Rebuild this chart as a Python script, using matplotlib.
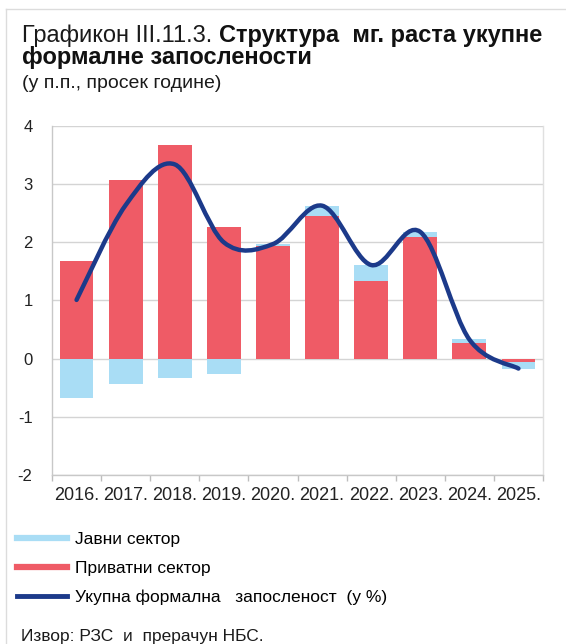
import matplotlib
matplotlib.use("Agg")
import matplotlib.pyplot as plt
from matplotlib.path import Path
from matplotlib.patches import PathPatch
from matplotlib.lines import Line2D
import numpy as np

plt.rcParams['font.family'] = ['Liberation Sans', 'DejaVu Sans']

# Year-on-year growth of formal employment, contributions in p.p.
years = ["2016.", "2017.", "2018.", "2019.", "2020.", "2021.", "2022.", "2023.", "2024.", "2025."]
private_sector = [1.68, 3.08, 3.67, 2.26, 1.93, 2.46, 1.34, 2.09, 0.27, -0.05]
public_sector = [-0.67, -0.44, -0.33, -0.26, 0.04, 0.17, 0.27, 0.09, 0.06, -0.13]
total_growth = [1.01, 2.64, 3.34, 2.00, 1.97, 2.63, 1.61, 2.18, 0.33, -0.17]

y_ticks = [-2, -1, 0, 1, 2, 3, 4]

legend_labels = ["Јавни сектор", "Приватни сектор", "Укупна формална   запосленост  (у %)"]
title_plain = "Графикон III.11.3. "
title_bold_1 = "Структура  мг. раста укупне"
title_bold_2 = "формалне запослености"
subtitle = "(у п.п., просек године)"
source = "Извор: РЗС  и  прерачун НБС."

c_public = "#a9ddf5"
c_private = "#ef5b66"
c_total = "#1c3a8a"
c_grid = "#d4d4d4"

W, H = 566, 644
fig = plt.figure(figsize=(W / 100, H / 100), dpi=100)
ax = fig.add_axes([52 / W, 1 - 475 / H, (543 - 52) / W, (475 - 126) / H])

x = np.arange(len(years))
priv = np.array(private_sector)
pub = np.array(public_sector)

# public contribution stacks on the private bar when signs agree
pub_bottom = np.where(pub >= 0, np.maximum(priv, 0), np.minimum(priv, 0))

bw = 0.69
ax.bar(x, priv, width=bw, color=c_private, zorder=2)
ax.bar(x, pub, width=bw, bottom=pub_bottom, color=c_public, zorder=2)

# smoothed total line (Catmull-Rom as cubic Bezier)
ty = np.array(total_growth, dtype=float)
pts = np.column_stack([x, ty]).astype(float)
ext = np.vstack([pts[0], pts, pts[-1]])
verts = [tuple(pts[0])]
codes = [Path.MOVETO]
for i in range(len(pts) - 1):
    p0, p1, p2, p3 = ext[i], ext[i + 1], ext[i + 2], ext[i + 3]
    c1 = p1 + (p2 - p0) / 6
    c2 = p2 - (p3 - p1) / 6
    verts += [tuple(c1), tuple(c2), tuple(p2)]
    codes += [Path.CURVE4] * 3
ax.add_patch(PathPatch(Path(verts, codes), fill=False, edgecolor=c_total,
                       lw=3.2, capstyle='round', joinstyle='round', zorder=3))

ax.set_xlim(-0.5, len(years) - 0.5)
ax.set_ylim(-2, 4)
ax.set_yticks(y_ticks)
ax.set_yticklabels([str(v) for v in y_ticks], fontsize=12)
ax.tick_params(axis='y', length=0, pad=14, labelcolor="#222222")
ax.set_xticks(x)
ax.set_xticklabels(years, fontsize=13, color="#222222")
ax.tick_params(axis='x', length=0, pad=9)
ax.set_xticks(np.arange(-0.5, len(years), 1), minor=True)
ax.tick_params(axis='x', which='minor', length=4, color="#bdbdbd", width=1)
ax.yaxis.grid(True, color=c_grid, lw=1, zorder=0)
ax.set_axisbelow(True)
for s in ['left', 'bottom', 'right']:
    ax.spines[s].set_color("#c8c8c8")
    ax.spines[s].set_linewidth(1)
ax.spines['right'].set_color("#e0e0e0")
ax.spines['top'].set_visible(False)

# title
fs_title = 17
t1 = fig.text(22 / W, 1 - 42 / H, title_plain, fontsize=fs_title, va='baseline', color="#1a1a1a")
fig.canvas.draw()
bb = t1.get_window_extent()
fig.text(bb.x1 / W, 1 - 42 / H, title_bold_1, fontsize=fs_title, fontweight='bold',
         va='baseline', color="#111111")
fig.text(22 / W, 1 - 64 / H, title_bold_2, fontsize=fs_title, fontweight='bold',
         va='baseline', color="#111111")
fig.text(22 / W, 1 - 88 / H, subtitle, fontsize=14, va='baseline', color="#1a1a1a")

# legend
handles = [Line2D([], [], color=c_public, lw=4.5),
           Line2D([], [], color=c_private, lw=4.5),
           Line2D([], [], color=c_total, lw=3.5)]
fig.legend(handles, legend_labels, loc='upper left', bbox_to_anchor=(17 / W, 1 - 532 / H),
           frameon=False, fontsize=12.5, handlelength=2.9, handletextpad=0.45,
           labelspacing=0.78, borderaxespad=0, borderpad=0)

fig.text(21 / W, 1 - 641 / H, source, fontsize=12.5, va='baseline', color="#1a1a1a")

# outer frame
fig.add_artist(Line2D([6 / W, 1], [1 - 9 / H, 1 - 9 / H], color="#dcdcdc", lw=1))
fig.add_artist(Line2D([6 / W, 6 / W], [0, 1 - 9 / H], color="#dcdcdc", lw=1))

fig.savefig("out.png", dpi=100)
